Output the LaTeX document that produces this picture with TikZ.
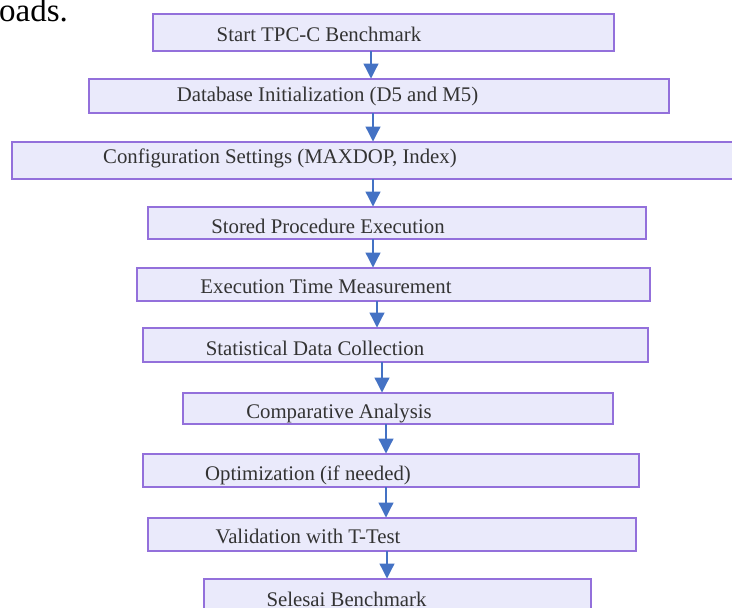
\documentclass[tikz,border=0pt]{standalone}
\usepackage{fontspec}
\setmainfont{Liberation Serif}
\usetikzlibrary{arrows.meta}
\definecolor{boxfill}{HTML}{EAEAFB}
\definecolor{boxline}{HTML}{9370DB}
\definecolor{arrowblue}{HTML}{4472C4}
\definecolor{txt}{HTML}{333333}
\tikzset{
  stepbox/.style={draw=boxline, fill=boxfill, line width=1.8pt, rectangle, inner sep=0pt, outer sep=0pt},
  lbl/.style={anchor=base, inner sep=0pt, text=txt, font=\fontsize{20.8}{24}\selectfont},
  flow/.style={draw=arrowblue, line width=1.3pt, -{Triangle[length=15pt,width=15pt]}, shorten >=0.5pt}
}
\begin{document}
\begin{tikzpicture}[x=1pt,y=-1pt]
\useasboundingbox (0,0) rectangle (732,608);
\clip (0,0) rectangle (732,608);
\node[anchor=base west, inner sep=0pt, text=black, font=\fontsize{33}{38}\selectfont] (prev) at (-1,21) {oads.};
% boxes
\node[stepbox, minimum width=461pt, minimum height=37pt] (b1) at (383.5,32.5) {};
\node[stepbox, minimum width=580pt, minimum height=34pt] (b2) at (379,96) {};
\node[stepbox, minimum width=733pt, minimum height=37pt] (b3) at (378.5,160.5) {};
\node[stepbox, minimum width=498pt, minimum height=32pt] (b4) at (397,223) {};
\node[stepbox, minimum width=513pt, minimum height=33pt] (b5) at (393.5,284.5) {};
\node[stepbox, minimum width=505pt, minimum height=34pt] (b6) at (395.5,345) {};
\node[stepbox, minimum width=430pt, minimum height=31pt] (b7) at (398,408.5) {};
\node[stepbox, minimum width=496pt, minimum height=33pt] (b8) at (391,470.5) {};
\node[stepbox, minimum width=488pt, minimum height=33pt] (b9) at (392,534.5) {};
\node[stepbox, minimum width=387pt, minimum height=41pt] (b10) at (397.5,599.5) {};
% labels
\node[lbl] (t1) at (319,41) {Start TPC-C Benchmark};
\node[lbl] (t2) at (327.5,101.5) {Database Initialization (D5 and M5)};
\node[lbl] (t3) at (280,163) {Configuration Settings (MAXDOP, Index)};
\node[lbl] (t4) at (328,233) {Stored Procedure Execution};
\node[lbl] (t5) at (326,293) {Execution Time Measurement};
\node[lbl] (t6) at (315,355) {Statistical Data Collection};
\node[lbl] (t7) at (339,418) {Comparative Analysis};
\node[lbl] (t8) at (308,480) {Optimization (if needed)};
\node[lbl] (t9) at (308,543) {Validation with T-Test};
\node[lbl] (t10) at (346.5,606) {Selesai Benchmark};
% arrows
\draw[flow] (b1.south -| 371,0) -- (b2.north -| 371,0);
\draw[flow] (b2.south -| 373,0) -- (b3.north -| 373,0);
\draw[flow] (b3.south -| 373,0) -- (b4.north -| 373,0);
\draw[flow] (b4.south -| 373,0) -- (b5.north -| 373,0);
\draw[flow] (b5.south -| 377,0) -- (b6.north -| 377,0);
\draw[flow] (b6.south -| 382,0) -- (b7.north -| 382,0);
\draw[flow] (b7.south -| 386,0) -- (b8.north -| 386,0);
\draw[flow] (b8.south -| 386,0) -- (b9.north -| 386,0);
\draw[flow] (b9.south -| 387,0) -- (b10.north -| 387,0);
\end{tikzpicture}
\end{document}
